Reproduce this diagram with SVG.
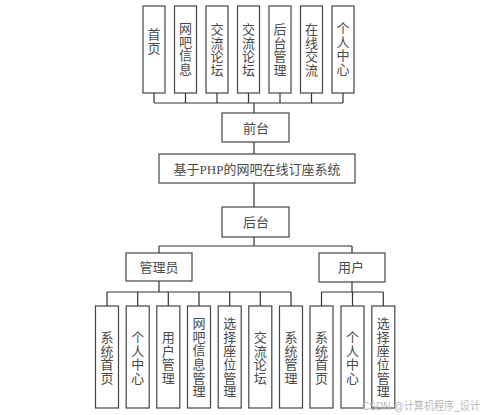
<svg xmlns="http://www.w3.org/2000/svg" width="500" height="415" viewBox="0 0 500 415">
<style>
.box{fill:#fff;stroke:#444;stroke-width:1.2}
.ln{fill:none;stroke:#333;stroke-width:1.2}
.t{font-family:"Liberation Serif","Noto Sans CJK SC",serif;font-size:13px;fill:#4a4a4a;text-anchor:middle}
.wm{font-family:"Liberation Sans","Noto Sans CJK SC",sans-serif;font-size:11.5px;fill:#b8b8b8}
</style>
<rect width="500" height="415" fill="#fff"/>
<g id="connectors">
<path class="ln" d="M154 93V103M185.5 93V103M217 93V103M248.5 93V103M280 93V103M311.5 93V103M343 93V103M154 103H343M254 103V113"/>
<path class="ln" d="M254 142V154M254 183V207M254 237V246M159 246H352M159 246V253M352 246V253"/>
<path class="ln" d="M159 281V292M107 292H291M107 292V306M137.7 292V306M168.3 292V306M199 292V306M229.7 292V306M260.3 292V306M291 292V306"/>
<path class="ln" d="M352 282V292M321.5 292H383.3M321.5 292V306M352.5 292V306M383.3 292V306"/>
</g>
<g id="n-shouye"><rect class="box" x="143" y="6" width="22" height="87"/><text class="t"><tspan x="154" y="39">首</tspan><tspan x="154" y="52.5">页</tspan></text></g>
<g id="n-wangba"><rect class="box" x="174.5" y="6" width="22" height="87"/><text class="t"><tspan x="185.5" y="33">网</tspan><tspan x="185.5" y="46.5">吧</tspan><tspan x="185.5" y="60">信</tspan><tspan x="185.5" y="73.5">息</tspan></text></g>
<g id="n-luntan1"><rect class="box" x="206" y="6" width="22" height="87"/><text class="t"><tspan x="217" y="34">交</tspan><tspan x="217" y="47.5">流</tspan><tspan x="217" y="61">论</tspan><tspan x="217" y="74.5">坛</tspan></text></g>
<g id="n-luntan2"><rect class="box" x="237.5" y="6" width="22" height="87"/><text class="t"><tspan x="248.5" y="34">交</tspan><tspan x="248.5" y="47.5">流</tspan><tspan x="248.5" y="61">论</tspan><tspan x="248.5" y="74.5">坛</tspan></text></g>
<g id="n-houtaiguanli"><rect class="box" x="269" y="6" width="22" height="87"/><text class="t"><tspan x="280" y="34">后</tspan><tspan x="280" y="47.5">台</tspan><tspan x="280" y="61">管</tspan><tspan x="280" y="74.5">理</tspan></text></g>
<g id="n-zaixian"><rect class="box" x="300.5" y="6" width="22" height="87"/><text class="t"><tspan x="311.5" y="34">在</tspan><tspan x="311.5" y="47.5">线</tspan><tspan x="311.5" y="61">交</tspan><tspan x="311.5" y="74.5">流</tspan></text></g>
<g id="n-geren1"><rect class="box" x="332" y="6" width="22" height="87"/><text class="t"><tspan x="343" y="33">个</tspan><tspan x="343" y="46.5">人</tspan><tspan x="343" y="60">中</tspan><tspan x="343" y="73.5">心</tspan></text></g>
<g id="n-qiantai"><rect class="box" x="222" y="113" width="67" height="29"/><text class="t" x="256" y="132.5">前台</text></g>
<g id="n-title"><rect class="box" x="159" y="154" width="196" height="29"/><text class="t" x="257" y="174">基于PHP的网吧在线订座系统</text></g>
<g id="n-houtai"><rect class="box" x="222" y="207" width="67" height="30"/><text class="t" x="256" y="227">后台</text></g>
<g id="n-admin"><rect class="box" x="126" y="253" width="66" height="28"/><text class="t" x="159" y="271.5">管理员</text></g>
<g id="n-user"><rect class="box" x="319" y="253" width="66" height="29"/><text class="t" x="351" y="271.5">用户</text></g>
<g id="n-a1"><rect class="box" x="95.5" y="306" width="23" height="102"/><text class="t"><tspan x="107" y="342">系</tspan><tspan x="107" y="355.7">统</tspan><tspan x="107" y="369.4">首</tspan><tspan x="107" y="383">页</tspan></text></g>
<g id="n-a2"><rect class="box" x="126.2" y="306" width="23" height="102"/><text class="t"><tspan x="137.7" y="342">个</tspan><tspan x="137.7" y="355.7">人</tspan><tspan x="137.7" y="369.4">中</tspan><tspan x="137.7" y="383">心</tspan></text></g>
<g id="n-a3"><rect class="box" x="156.8" y="306" width="23" height="102"/><text class="t"><tspan x="168.3" y="342">用</tspan><tspan x="168.3" y="355.7">户</tspan><tspan x="168.3" y="369.4">管</tspan><tspan x="168.3" y="383">理</tspan></text></g>
<g id="n-a4"><rect class="box" x="187.5" y="306" width="23" height="102"/><text class="t"><tspan x="199" y="328">网</tspan><tspan x="199" y="341.7">吧</tspan><tspan x="199" y="355.4">信</tspan><tspan x="199" y="369">息</tspan><tspan x="199" y="382.7">管</tspan><tspan x="199" y="396.4">理</tspan></text></g>
<g id="n-a5"><rect class="box" x="218.2" y="306" width="23" height="102"/><text class="t"><tspan x="229.7" y="328">选</tspan><tspan x="229.7" y="341.7">择</tspan><tspan x="229.7" y="355.4">座</tspan><tspan x="229.7" y="369">位</tspan><tspan x="229.7" y="382.7">管</tspan><tspan x="229.7" y="396.4">理</tspan></text></g>
<g id="n-a6"><rect class="box" x="248.8" y="306" width="23" height="102"/><text class="t"><tspan x="260.3" y="342">交</tspan><tspan x="260.3" y="355.7">流</tspan><tspan x="260.3" y="369.4">论</tspan><tspan x="260.3" y="383">坛</tspan></text></g>
<g id="n-a7"><rect class="box" x="279.5" y="306" width="23" height="102"/><text class="t"><tspan x="291" y="342">系</tspan><tspan x="291" y="355.7">统</tspan><tspan x="291" y="369.4">管</tspan><tspan x="291" y="383">理</tspan></text></g>
<g id="n-u1"><rect class="box" x="310" y="306" width="23" height="102"/><text class="t"><tspan x="321.5" y="342">系</tspan><tspan x="321.5" y="355.7">统</tspan><tspan x="321.5" y="369.4">首</tspan><tspan x="321.5" y="383">页</tspan></text></g>
<g id="n-u2"><rect class="box" x="341" y="306" width="23" height="102"/><text class="t"><tspan x="352.5" y="342">个</tspan><tspan x="352.5" y="355.7">人</tspan><tspan x="352.5" y="369.4">中</tspan><tspan x="352.5" y="383">心</tspan></text></g>
<g id="n-u3"><rect class="box" x="371.8" y="306" width="23" height="102"/><text class="t"><tspan x="383.3" y="328">选</tspan><tspan x="383.3" y="341.7">择</tspan><tspan x="383.3" y="355.4">座</tspan><tspan x="383.3" y="369">位</tspan><tspan x="383.3" y="382.7">管</tspan><tspan x="383.3" y="396.4">理</tspan></text></g>
<text class="wm" x="362" y="410" textLength="118" lengthAdjust="spacingAndGlyphs">CSDN @计算机程序_设计</text>
</svg>
